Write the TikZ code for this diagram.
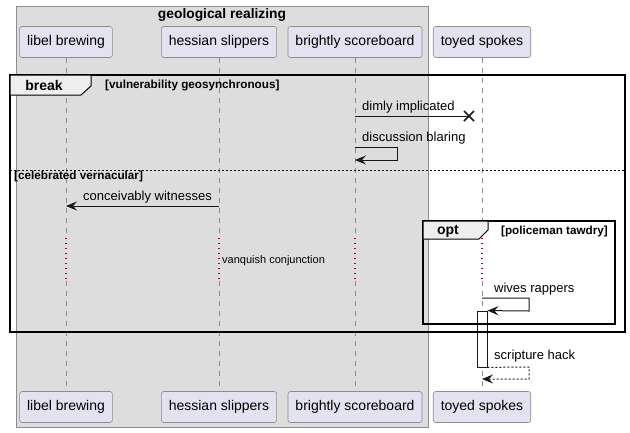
\documentclass[tikz,border=0pt]{standalone}
\usepackage{fontspec}
\setmainfont{Liberation Sans}
\definecolor{Ink}{HTML}{181818}
\definecolor{PartFill}{HTML}{E2E2F0}
\definecolor{BoxFill}{HTML}{DDDDDD}
\definecolor{BoxLine}{HTML}{8C8C8C}
\definecolor{TabFill}{HTML}{EEEEEE}
\definecolor{Delay}{HTML}{A80036}
\usetikzlibrary{arrows.meta,positioning,calc}

\begin{document}
\begin{tikzpicture}[
    x=1pt, y=-1pt,
    part/.style={
      draw=BoxLine, fill=PartFill, rounded corners=2.5pt, line width=0.6pt,
      minimum height=31pt, inner xsep=7.5pt, anchor=center,
      font=\fontsize{14}{16}\selectfont
    },
    life/.style={draw=BoxLine, line width=0.6pt, dash pattern=on 5pt off 5pt},
    late/.style={draw=Delay, line width=1.1pt, dash pattern=on 1.1pt off 3.9pt},
    msg/.style={draw=Ink, line width=1pt, -{Stealth[length=11pt,width=9pt,inset=4pt]}},
    reply/.style={msg, dash pattern=on 2pt off 2pt},
    lbl/.style={font=\fontsize{13}{15}\selectfont, inner sep=0pt, anchor=south west},
    frame/.style={draw=black, line width=1.6pt},
    cond/.style={font=\bfseries\fontsize{11.7}{13}\selectfont, inner sep=0pt},
    tab/.style={font=\bfseries\fontsize{14}{16}\selectfont, inner sep=0pt}
  ]
    \useasboundingbox (0,0) rectangle (630,432);
    % grouping box
    \draw[draw=BoxLine, fill=BoxFill, line width=0.8pt] (16,6) rectangle (428,427);
    \node[font=\bfseries\fontsize{13.8}{15}\selectfont, inner sep=0pt] (grp) at (222,15) {geological realizing};

    % participants, top and bottom
    \node[part] (lbT) at (66,42) {libel brewing};
    \node[part] (hsT) at (219,42) {hessian slippers};
    \node[part] (bsT) at (355,42) {brightly scoreboard};
    \node[part] (tsT) at (482,42) {toyed spokes};
    \node[part] (lbB) at (66,407) {libel brewing};
    \node[part] (hsB) at (219,407) {hessian slippers};
    \node[part] (bsB) at (355,407) {brightly scoreboard};
    \node[part] (tsB) at (482,407) {toyed spokes};

    % lifelines with the delay gap
    \foreach \p in {lb,hs,bs,ts} {
      \draw[life] (\p T.south) -- (\p T.south |- 0,238);
      \draw[late] (\p T.south |- 0,238) -- (\p T.south |- 0,281);
      \draw[life] (\p B.north |- 0,281) -- (\p B.north);
    }

    % activation on toyed spokes
    \node[draw=Ink, fill=white, line width=0.8pt, minimum width=10pt, minimum height=56pt,
          inner sep=0pt] (act) at (482,339) {};

    % break frame
    \draw[frame] (10,75) rectangle (625,332);
    \draw[black, line width=1pt, fill=TabFill] (10,75) -- (91,75) -- (91,86) -- (81,95) -- (10,95) -- cycle;
    \node[tab] (brk) at (44,85) {break};
    \node[cond, anchor=west] (c1) at (105,85) {[vulnerability geosynchronous]};
    \draw[black, line width=0.8pt, dash pattern=on 2pt off 2pt] (10,170) -- (625,170);
    \node[cond, anchor=west] (c2) at (14,176) {[celebrated vernacular]};

    % messages in break
    \coordinate (xend) at (469,116);
    \draw[draw=Ink, line width=1pt] (bsT.south |- 0,116) -- (xend);
    \draw[draw=Ink, line width=1.6pt] ($(xend)+(-5,-5)$) -- ($(xend)+(5,5)$)
      ($(xend)+(-5,5)$) -- ($(xend)+(5,-5)$);
    \node[lbl] (m1) at (362,113) {dimly implicated};

    \draw[msg] (bsT.south |- 0,147) -- (397,147) -- (397,160) -- (bsT.south |- 0,160);
    \node[lbl] (m2) at (362,144) {discussion blaring};

    \draw[msg] (hsT.south |- 0,206) -- (lbT.south |- 0,206);
    \node[lbl] (m3) at (83,203) {conceivably witnesses};

    \node[font=\fontsize{11}{13}\selectfont, inner sep=0pt, anchor=west] (dly) at (222,261) {vanquish conjunction};

    % opt frame
    \draw[frame] (423,221) rectangle (615,324);
    \draw[black, line width=1pt, fill=TabFill] (423,221) -- (488,221) -- (488,230) -- (479,239) -- (423,239) -- cycle;
    \node[tab] (opt) at (448,231) {opt};
    \node[cond, anchor=east] (c3) at (608,231) {[policeman tawdry]};

    \draw[msg] (tsT.south |- 0,298) -- (529,298) -- (529,311) -- (act.north east);
    \node[lbl] (m4) at (494,295) {wives rappers};

    \draw[reply] (act.south east) -- (529,367) -- (529,379) -- (tsB.north |- 0,379);
    \node[lbl] (m5) at (494,362) {scripture hack};
  \end{tikzpicture}
\end{document}
